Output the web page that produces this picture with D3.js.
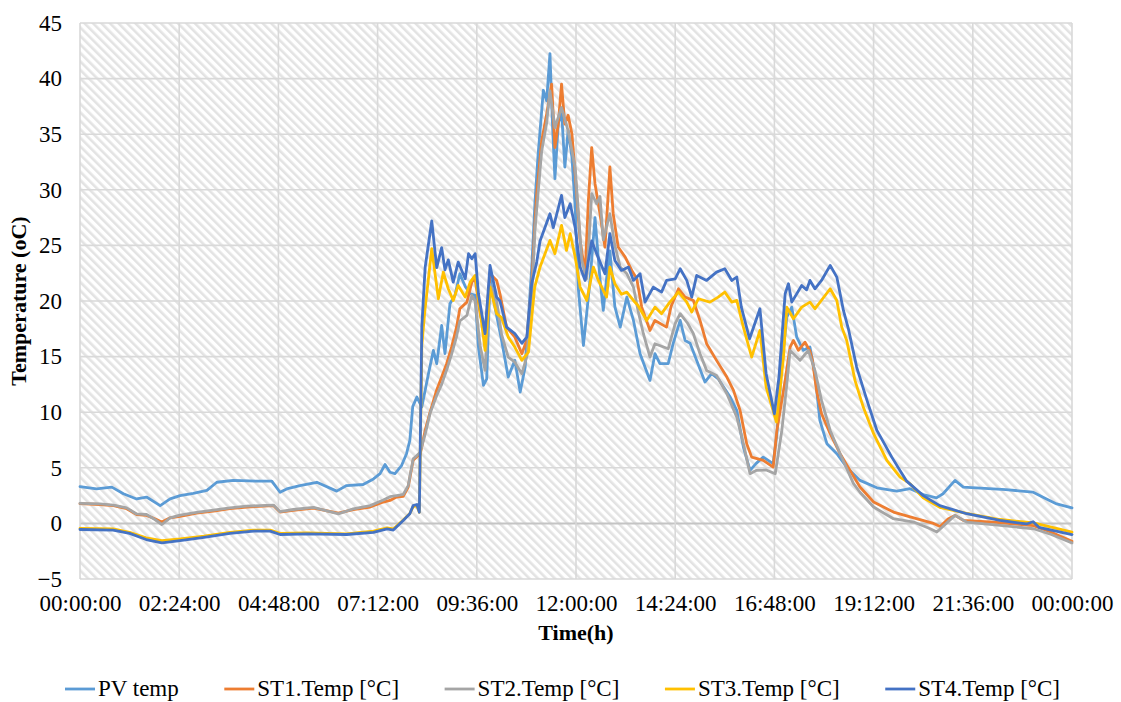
<!DOCTYPE html>
<html>
<head>
<meta charset="utf-8">
<script src="https://cdn.jsdelivr.net/npm/d3@7"></script>
<style>
  body { margin: 0; background: #ffffff; }
  svg text { font-family: "Liberation Serif", "Times New Roman", serif; fill: #000; }
</style>
</head>
<body>
<svg id="chart" width="1121" height="702"></svg>
<script>

// [hour, temperature]
var pvTemp = [[0,3.3],[0.4,3.1],[0.77,3.26],[1.05,2.67],[1.37,2.2],[1.61,2.37],[1.94,1.6],[2.18,2.2],[2.42,2.5],[2.74,2.7],[3.07,2.97],[3.31,3.7],[3.71,3.87],[4.28,3.8],[4.64,3.8],[4.84,2.8],[5.0,3.1],[5.32,3.4],[5.73,3.7],[6.21,2.9],[6.45,3.4],[6.85,3.5],[7.1,4.0],[7.26,4.47],[7.38,5.3],[7.5,4.6],[7.62,4.47],[7.78,5.2],[7.9,6.27],[7.98,7.46],[8.05,10.5],[8.15,11.36],[8.27,10.46],[8.43,13.46],[8.55,15.56],[8.63,14.36],[8.75,17.8],[8.83,15.26],[8.95,19.75],[9.07,20.5],[9.19,22.45],[9.32,21.3],[9.44,20.65],[9.56,20.5],[9.64,15.86],[9.76,12.41],[9.84,13.0],[9.92,22.15],[10.04,19.45],[10.2,16.45],[10.36,13.16],[10.52,14.66],[10.65,11.81],[10.77,14.06],[10.93,23.05],[11.01,29.0],[11.08,33.0],[11.21,38.95],[11.29,38.0],[11.37,42.25],[11.43,36.0],[11.49,31.0],[11.57,35.9],[11.65,37.1],[11.73,32.05],[11.81,35.35],[11.9,33.0],[11.98,28.45],[12.06,20.95],[12.18,16.0],[12.34,21.85],[12.46,27.5],[12.58,22.0],[12.66,19.15],[12.74,22.0],[12.82,24.5],[12.94,19.5],[13.07,17.65],[13.23,20.35],[13.39,18.25],[13.55,15.26],[13.79,12.86],[13.91,15.26],[14.03,14.36],[14.23,14.36],[14.35,16.16],[14.52,18.25],[14.64,16.45],[14.76,16.2],[14.92,14.66],[15.12,12.71],[15.28,13.46],[15.44,13.0],[15.73,11.36],[15.89,10.16],[16.05,6.86],[16.21,4.77],[16.36,5.4],[16.53,5.96],[16.77,5.37],[16.86,8.0],[16.98,14.36],[17.1,18.55],[17.22,19.45],[17.34,16.75],[17.5,15.56],[17.66,15.86],[17.78,13.46],[17.9,9.26],[18.07,7.17],[18.31,6.27],[18.55,5.06],[18.87,3.87],[19.28,3.2],[19.76,2.9],[20.08,3.12],[20.4,2.6],[20.72,2.3],[20.88,2.67],[21.17,3.87],[21.37,3.27],[22.4,3.03],[23.05,2.82],[23.37,2.22],[23.63,1.75],[24,1.4]];

var st1Temp = [[0,1.77],[0.48,1.7],[0.81,1.6],[1.13,1.32],[1.37,0.8],[1.61,0.72],[1.81,0.42],[1.98,0.12],[2.18,0.5],[2.42,0.63],[2.82,0.93],[3.23,1.1],[3.63,1.32],[4.03,1.47],[4.68,1.6],[4.84,1.02],[5.16,1.17],[5.65,1.38],[6.25,0.93],[6.61,1.23],[7.02,1.47],[7.34,1.92],[7.5,2.07],[7.66,2.37],[7.82,2.43],[7.94,3.27],[8.06,5.67],[8.15,6.0],[8.23,6.2],[8.35,8.36],[8.47,10.0],[8.63,12.0],[8.75,13.16],[8.87,14.36],[8.99,15.86],[9.11,17.65],[9.19,19.3],[9.36,19.9],[9.48,21.7],[9.56,22.0],[9.68,18.86],[9.8,17.06],[9.92,22.45],[10.08,21.85],[10.16,20.65],[10.32,17.65],[10.52,16.75],[10.69,15.26],[10.81,16.5],[10.93,21.55],[11.01,27.25],[11.05,29.6],[11.17,34.4],[11.29,36.8],[11.41,39.5],[11.49,33.8],[11.57,35.9],[11.65,39.5],[11.73,35.9],[11.81,36.7],[11.9,35.05],[11.98,31.45],[12.1,25.45],[12.22,22.45],[12.3,29.05],[12.38,33.8],[12.46,30.55],[12.58,27.85],[12.7,24.85],[12.82,32.05],[12.9,27.85],[13.02,24.85],[13.19,23.95],[13.35,22.75],[13.47,22.0],[13.59,19.45],[13.79,17.35],[13.91,18.25],[14.19,17.65],[14.3,19.5],[14.48,21.1],[14.64,20.35],[14.84,20.05],[15.0,18.25],[15.16,16.16],[15.4,14.66],[15.65,13.16],[15.81,11.96],[15.97,10.16],[16.13,7.17],[16.25,5.96],[16.53,5.67],[16.77,5.06],[16.86,8.36],[17.06,12.86],[17.18,15.86],[17.26,16.45],[17.38,15.56],[17.54,16.3],[17.66,15.5],[17.72,14.66],[17.82,11.96],[17.94,9.86],[18.15,8.07],[18.39,6.27],[18.63,4.77],[18.87,3.27],[19.2,1.92],[19.68,1.02],[20.17,0.5],[20.65,0.0],[20.81,-0.27],[21.0,0.4],[21.17,0.72],[21.37,0.27],[22.1,0.12],[23.07,-0.2],[23.5,-0.8],[24,-1.6]];

var st2Temp = [[0,1.8],[0.48,1.75],[0.81,1.65],[1.13,1.4],[1.37,0.85],[1.61,0.8],[1.81,0.35],[1.98,-0.1],[2.18,0.5],[2.42,0.75],[2.82,1.0],[3.23,1.2],[3.63,1.4],[4.03,1.55],[4.68,1.65],[4.84,1.05],[5.16,1.25],[5.65,1.45],[6.25,0.85],[6.61,1.3],[7.02,1.6],[7.34,2.1],[7.5,2.4],[7.66,2.5],[7.82,2.6],[7.94,3.4],[8.06,5.8],[8.15,6.1],[8.23,6.4],[8.35,8.0],[8.47,9.9],[8.63,11.5],[8.75,12.5],[8.87,13.8],[8.99,15.2],[9.11,16.8],[9.19,18.2],[9.36,18.7],[9.48,20.5],[9.56,20.0],[9.68,16.0],[9.8,13.76],[9.92,21.5],[10.08,20.0],[10.2,17.0],[10.36,14.96],[10.52,14.5],[10.69,13.46],[10.81,15.0],[10.93,20.5],[11.01,26.5],[11.17,33.5],[11.29,36.0],[11.37,38.9],[11.49,35.6],[11.65,37.4],[11.81,35.3],[11.98,32.0],[12.14,23.65],[12.26,22.0],[12.38,29.65],[12.5,28.75],[12.58,29.4],[12.66,25.5],[12.82,27.85],[12.94,25.0],[13.07,23.05],[13.23,22.45],[13.39,21.25],[13.5,19.15],[13.63,17.06],[13.79,14.96],[13.91,16.16],[14.23,15.7],[14.4,17.96],[14.52,18.86],[14.7,18.0],[14.84,17.06],[15.0,15.26],[15.16,13.76],[15.4,13.3],[15.65,11.66],[15.89,9.56],[16.05,7.17],[16.21,4.47],[16.37,4.77],[16.6,4.8],[16.82,4.47],[16.98,8.36],[17.1,12.5],[17.18,15.56],[17.42,14.66],[17.62,15.56],[17.78,13.76],[17.94,11.06],[18.15,8.36],[18.39,6.27],[18.71,3.6],[18.87,2.8],[19.2,1.47],[19.68,0.42],[20.17,0.12],[20.57,-0.48],[20.73,-0.78],[21.17,0.72],[21.45,0.12],[23.07,-0.48],[23.5,-1.0],[24,-1.75]];

var st3Temp = [[0,-0.45],[0.8,-0.5],[1.2,-0.8],[1.6,-1.3],[1.98,-1.55],[2.42,-1.4],[3.0,-1.15],[3.63,-0.8],[4.2,-0.6],[4.6,-0.6],[4.84,-0.9],[5.5,-0.85],[6.45,-0.95],[7.1,-0.7],[7.43,-0.4],[7.58,-0.5],[7.82,0.3],[7.98,0.9],[8.06,1.5],[8.15,1.6],[8.21,1.0],[8.27,16.0],[8.34,19.0],[8.51,24.7],[8.67,20.2],[8.79,22.6],[8.91,21.1],[9.03,20.05],[9.15,21.4],[9.32,20.35],[9.44,21.7],[9.56,22.3],[9.68,19.15],[9.8,15.56],[9.92,21.25],[10.08,18.86],[10.2,18.5],[10.36,16.75],[10.52,15.86],[10.69,14.66],[10.85,15.4],[11.0,21.25],[11.13,23.05],[11.37,25.45],[11.49,24.25],[11.65,26.8],[11.77,24.55],[11.86,26.05],[11.98,23.95],[12.1,21.25],[12.26,20.05],[12.42,23.05],[12.54,21.85],[12.74,20.35],[12.82,23.05],[12.94,21.55],[13.1,20.6],[13.23,20.8],[13.39,20.05],[13.5,19.6],[13.71,18.25],[13.91,19.45],[14.07,18.86],[14.27,19.9],[14.48,20.8],[14.68,19.9],[14.8,19.0],[14.96,20.2],[15.24,19.9],[15.44,20.35],[15.6,20.8],[15.77,19.9],[15.89,20.05],[16.05,17.65],[16.25,14.96],[16.45,17.35],[16.6,12.26],[16.85,9.11],[17.02,14.96],[17.1,19.45],[17.26,18.4],[17.46,19.45],[17.66,19.9],[17.78,19.3],[18.15,21.1],[18.31,20.05],[18.43,17.65],[18.55,16.45],[18.75,12.86],[18.95,10.46],[19.2,8.07],[19.52,5.67],[19.84,4.16],[20.08,3.57],[20.4,2.3],[20.8,1.45],[21.45,0.9],[22.26,0.35],[23.07,0.05],[24,-0.78]];

var st4Temp = [[0,-0.55],[0.8,-0.6],[1.2,-0.9],[1.6,-1.45],[1.98,-1.75],[2.42,-1.55],[3.0,-1.25],[3.63,-0.9],[4.2,-0.7],[4.6,-0.7],[4.84,-1.0],[5.5,-0.95],[6.45,-1.0],[7.1,-0.8],[7.43,-0.5],[7.58,-0.6],[7.82,0.27],[7.98,0.87],[8.06,1.6],[8.15,1.7],[8.21,1.0],[8.27,17.7],[8.35,23.0],[8.51,27.2],[8.63,23.0],[8.75,24.8],[8.83,22.8],[8.91,23.7],[9.03,21.7],[9.15,23.5],[9.32,22.0],[9.4,24.25],[9.48,23.8],[9.56,24.25],[9.64,20.65],[9.8,17.06],[9.92,23.2],[10.08,20.35],[10.16,20.0],[10.32,17.65],[10.52,17.06],[10.69,16.2],[10.81,16.75],[10.93,21.6],[11.05,23.5],[11.13,25.4],[11.37,27.85],[11.45,26.6],[11.65,29.5],[11.73,27.5],[11.86,28.75],[11.98,26.6],[12.1,23.05],[12.22,21.85],[12.38,25.4],[12.5,24.25],[12.7,22.45],[12.82,26.05],[12.94,23.65],[13.1,22.75],[13.27,23.05],[13.39,21.85],[13.55,22.45],[13.67,19.9],[13.87,21.25],[14.07,20.8],[14.19,21.85],[14.4,22.0],[14.52,22.9],[14.68,21.85],[14.8,20.35],[14.92,22.3],[15.16,21.85],[15.4,22.6],[15.6,22.9],[15.77,21.85],[15.89,22.15],[16.0,19.45],[16.2,16.6],[16.45,19.3],[16.6,13.46],[16.8,9.86],[16.91,13.16],[17.06,20.65],[17.14,21.55],[17.22,19.9],[17.46,21.4],[17.58,21.0],[17.66,21.85],[17.78,21.1],[17.94,21.85],[18.15,23.2],[18.31,22.15],[18.47,19.15],[18.59,17.5],[18.79,14.06],[19.04,11.06],[19.28,8.36],[19.64,5.96],[20.0,3.8],[20.4,2.5],[20.8,1.6],[21.45,0.87],[22.26,0.27],[22.9,-0.05],[23.06,0.15],[23.2,-0.35],[24,-1.0]];

var seriesNames  = ["PV temp", "ST1.Temp [°C]", "ST2.Temp [°C]", "ST3.Temp [°C]", "ST4.Temp [°C]"];
var seriesData   = [pvTemp, st1Temp, st2Temp, st3Temp, st4Temp];
var seriesColors = ["#5B9BD5", "#ED7D31", "#A5A5A5", "#FFC000", "#4472C4"];

var xTicks = [0, 2.4, 4.8, 7.2, 9.6, 12, 14.4, 16.8, 19.2, 21.6, 24];
var yTicks = [-5, 0, 5, 10, 15, 20, 25, 30, 35, 40, 45];

function hourLabel(h) {
    var mins = Math.round(h * 60) % (24 * 60);
    var hh = Math.floor(mins / 60), mm = mins % 60;
    return d3.format("02")(hh) + ":" + d3.format("02")(mm) + ":00";
}

var svg = d3.select("#chart");
var plotLeft = 80, plotRight = 1072, plotTop = 23, plotBottom = 579;

var xScale = d3.scaleLinear().domain([0, 24]).range([plotLeft, plotRight]);
var yScale = d3.scaleLinear().domain([-5, 45]).range([plotBottom, plotTop]);

// hatched plot background
var pat = svg.append("defs").append("pattern")
    .attr("id", "hatch")
    .attr("patternUnits", "userSpaceOnUse")
    .attr("width", 6)
    .attr("height", 6)
    .attr("patternTransform", "rotate(-45)");
pat.append("rect").attr("width", 6).attr("height", 6).attr("fill", "#ffffff");
pat.append("rect").attr("width", 2.6).attr("height", 6).attr("fill", "#e3e3e3");

svg.append("rect")
    .attr("x", plotLeft)
    .attr("y", plotTop)
    .attr("width", plotRight - plotLeft)
    .attr("height", plotBottom - plotTop)
    .attr("fill", "url(#hatch)");

// gridlines
var grid = svg.append("g");
grid.selectAll(".hgrid")
    .data(yTicks)
    .enter()
    .append("line")
    .attr("x1", plotLeft)
    .attr("x2", plotRight)
    .attr("y1", function(d) { return yScale(d); })
    .attr("y2", function(d) { return yScale(d); })
    .attr("stroke", function(d) { return d == 0 ? "#c4c4c4" : "#d9d9d9"; })
    .attr("stroke-width", function(d) { return d == 0 ? 2 : 1.6; });
grid.selectAll(".vgrid")
    .data(xTicks)
    .enter()
    .append("line")
    .attr("x1", function(d) { return xScale(d); })
    .attr("x2", function(d) { return xScale(d); })
    .attr("y1", plotTop)
    .attr("y2", plotBottom)
    .attr("stroke", "#d9d9d9")
    .attr("stroke-width", 1.6);

// axes (labels only, Excel style)
var xAxis = d3.axisBottom(xScale).tickValues(xTicks).tickFormat(hourLabel).tickSize(0).tickPadding(16);
var yAxis = d3.axisLeft(yScale).tickValues(yTicks).tickSize(0).tickPadding(18);

var gx = svg.append("g")
    .attr("transform", "translate(0," + plotBottom + ")")
    .call(xAxis);
var gy = svg.append("g")
    .attr("transform", "translate(" + plotLeft + ",0)")
    .call(yAxis);
[gx, gy].forEach(function(g) {
    g.select(".domain").remove();
    g.selectAll("text")
        .style("font-family", "'Liberation Serif', serif")
        .style("font-size", "23px")
        .attr("fill", "#000");
});

var line = d3.line()
    .x(function(d) { return xScale(d[0]); })
    .y(function(d) { return yScale(d[1]); });

svg.append("g")
    .selectAll("path")
    .data(seriesData)
    .enter()
    .append("path")
    .attr("d", line)
    .attr("fill", "none")
    .attr("stroke", function(d, i) { return seriesColors[i]; })
    .attr("stroke-width", 2.8)
    .attr("stroke-linejoin", "round")
    .attr("stroke-linecap", "round");

// axis titles
svg.append("text")
    .attr("x", (plotLeft + plotRight) / 2)
    .attr("y", 640)
    .attr("text-anchor", "middle")
    .style("font-size", "22px")
    .style("font-weight", "bold")
    .text("Time(h)");

svg.append("text")
    .attr("transform", "translate(26," + ((plotTop + plotBottom) / 2) + ") rotate(-90)")
    .attr("text-anchor", "middle")
    .style("font-size", "22px")
    .style("font-weight", "bold")
    .text("Temperature (oC)");

// legend
var legend = svg.append("g");
var items = legend.selectAll("g")
    .data(seriesNames)
    .enter()
    .append("g");
items.append("line")
    .attr("x1", 0)
    .attr("x2", 30)
    .attr("y1", 0)
    .attr("y2", 0)
    .attr("stroke", function(d, i) { return seriesColors[i]; })
    .attr("stroke-width", 2.8);
items.append("text")
    .attr("x", 33)
    .attr("y", 7)
    .style("font-size", "23px")
    .text(function(d) { return d; });

var widths = [];
items.each(function() { widths.push(this.getBBox().width); });
var legendLeft = 65, legendRight = 1060;
var gap = (legendRight - legendLeft - d3.sum(widths)) / (widths.length - 1);
var xpos = legendLeft;
items.attr("transform", function(d, i) {
    var t = "translate(" + xpos + ",689)";
    xpos += widths[i] + gap;
    return t;
});

</script>
</body>
</html>
